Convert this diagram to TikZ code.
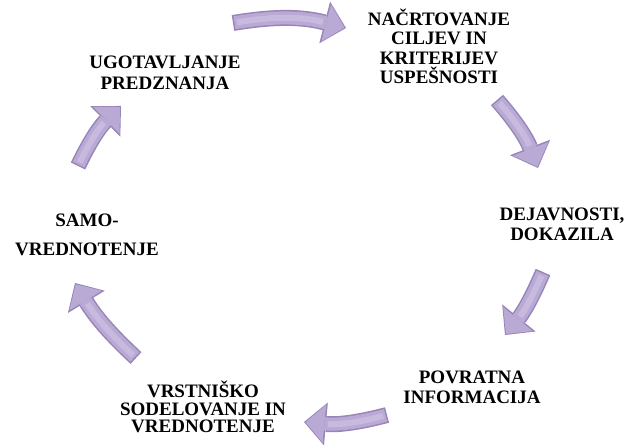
\documentclass[tikz,border=0pt]{standalone}
\usepackage{fontspec}
\setmainfont{Liberation Serif}
\newfontfamily\stagefont{Liberation Serif}[BoldFont={Liberation Serif Bold}]
\usetikzlibrary{arrows.meta}
\definecolor{arrowdark}{HTML}{9885B7}
\definecolor{arrowmid}{HTML}{B9A9D5}
\definecolor{arrowlight}{HTML}{D3C8E6}
\tikzset{
    stage/.style={align=center, inner sep=0pt,
        font=\stagefont\fontsize{19}{19.5}\selectfont\bfseries},
    cyc/.style={draw=arrowmid, line width=13pt,
        shorten <=1.5pt, shorten >=1.5pt,
        -{Triangle[width=38pt,length=19pt,line width=0pt]},
        preaction={draw=arrowdark, line width=16pt, shorten <=0pt, shorten >=0pt,
            -{Triangle[width=43pt,length=22pt,line width=0pt]}},
        postaction={draw=arrowlight, line width=6pt, opacity=0.55, -, shorten <=4pt, shorten >=24pt}
    }
}

\begin{document}
\begin{tikzpicture}[x=1pt,y=1pt]
\useasboundingbox (0,0) rectangle (627,445);
\node(plan)  [stage] at (439,398.5) {NAČRTOVANJE\\ CILJEV IN\\ KRITERIJEV\\ USPEŠNOSTI};
\node(activ) [stage] at (562,220.5) {DEJAVNOSTI,\\ DOKAZILA};
\node(feedb) [stage] at (472,57.5)  {POVRATNA\\ INFORMACIJA};
\node(peer)  [stage] at (203,38)    {VRSTNIŠKO\\[-2pt] SODELOVANJE IN\\[-2pt] VREDNOTENJE};
\node(self)  [stage] at (87,210.5)  {SAMO-\\[9.5pt] VREDNOTENJE};
\node(prior) [stage] at (165,372.5) {UGOTAVLJANJE\\[1.5pt] PREDZNANJA};
% arrow ends
\coordinate (a1s) at (233,422); \coordinate (a1e) at (346,417);
\coordinate (a2s) at (497,345); \coordinate (a2e) at (538,277);
\coordinate (a3s) at (543,173); \coordinate (a3e) at (505,110);
\coordinate (a4s) at (387,30);  \coordinate (a4e) at (304,23);
\coordinate (a5s) at (136,87);  \coordinate (a5e) at (75,162);
\coordinate (a6s) at (78,279);  \coordinate (a6e) at (121,339);
\draw[cyc] (a1s) to[bend left=12] (a1e);
\draw[cyc] (a2s) to[bend left=10] (a2e);
\draw[cyc] (a3s) to[bend left=8]  (a3e);
\draw[cyc] (a4s) to[bend left=10] (a4e);
\draw[cyc] (a5s) to[bend left=8]  (a5e);
\draw[cyc] (a6s) to[bend left=10] (a6e);
\end{tikzpicture}
\end{document}
